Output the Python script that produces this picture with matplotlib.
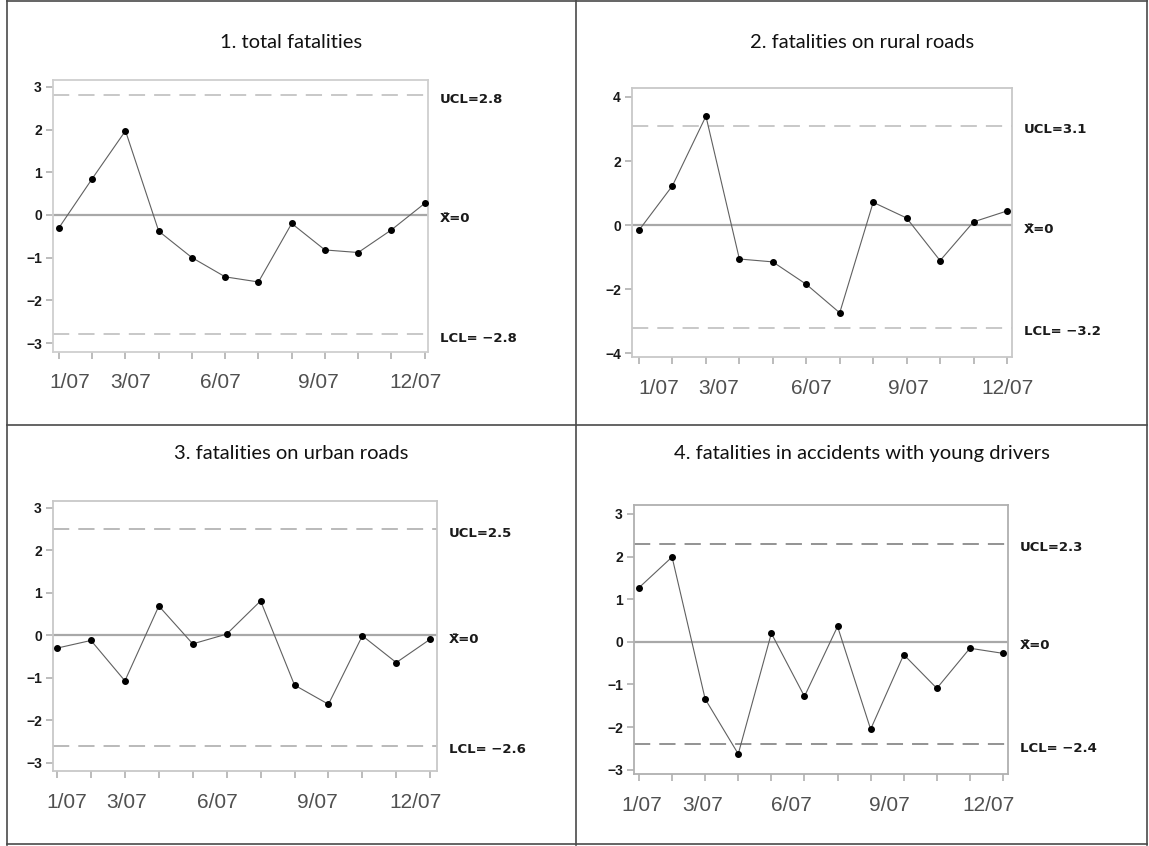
import numpy as np
import matplotlib.pyplot as plt
from matplotlib.lines import Line2D

# ----------------------------
# Data (standardised monthly values, 2007)
# ----------------------------
months = np.arange(1, 13)

total = [-0.30, 0.85, 1.97, -0.38, -1.00, -1.45, -1.57, -0.20, -0.82, -0.88, -0.35, 0.27]
rural = [-0.16, 1.23, 3.40, -1.06, -1.15, -1.85, -2.74, 0.71, 0.22, -1.11, 0.10, 0.44]
urban = [-0.30, -0.12, -1.07, 0.69, -0.20, 0.03, 0.81, -1.17, -1.62, -0.01, -0.64, -0.09]
young = [1.27, 1.99, -1.34, -2.63, 0.20, -1.28, 0.36, -2.05, -0.30, -1.09, -0.15, -0.27]

titles = [
    "1. total fatalities",
    "2. fatalities on rural roads",
    "3. fatalities on urban roads",
    "4. fatalities in accidents with young drivers",
]
ucl = [2.8, 3.1, 2.5, 2.3]
lcl = [-2.8, -3.2, -2.6, -2.4]
ucl_text = ["2.8", "3.1", "2.5", "2.3"]
lcl_text = ["\u22122.8", "\u22123.2", "\u22122.6", "\u22122.4"]

label_months = [1, 3, 6, 9, 12]
label_text = ["1/07", "3/07", "6/07", "9/07", "12/07"]

# ----------------------------
# Layout (pixels on a 1149 x 846 canvas)
# ----------------------------
W, H = 1149, 846
# left, right, top, bottom of each plot frame
frames = [(53, 428, 80, 352), (632, 1012, 88, 357),
          (53, 437, 501, 771), (634, 1008, 505, 774)]
ylims = [(-3.21, 3.16), (-4.12, 4.28), (-3.19, 3.16), (-3.10, 3.21)]
xlims = [(0.82, 12.1), (0.79, 12.15), (0.88, 12.2), (0.85, 12.15)]
yticks = [np.arange(-3, 4), np.arange(-4, 5, 2), np.arange(-3, 4), np.arange(-3, 4)]
label_shift = [[11, 5, -5, -7, -9], [20, 13, 5, 2, 1],
               [10, 2, -9, -11, -15], [3, -3, -13, -14, -15]]
dash_color = ["#c4c4c4", "#c4c4c4", "#b4b4b4", "#8a8a8a"]
spine_color = ["#cfcfcf", "#c8c8c8", "#c8c8c8", "#b0b0b0"]
title_pos = [(291, 42), (862, 42), (291, 453), (862, 453)]

series = [total, rural, urban, young]

fig = plt.figure(figsize=(W / 100, H / 100), dpi=100)

for i in range(4):
    l, r, t, b = frames[i]
    ax = fig.add_axes([l / W, 1 - b / H, (r - l) / W, (b - t) / H])

    ax.axhline(0, color="#a8a8a8", lw=1.6, zorder=1)
    ax.axhline(ucl[i], color=dash_color[i], lw=1.3, dashes=(9, 5), zorder=1)
    ax.axhline(lcl[i], color=dash_color[i], lw=1.3, dashes=(9, 5), zorder=1)

    ax.plot(months, series[i], color="#606060", lw=0.8, zorder=2)
    ax.plot(months, series[i], "o", color="black", ms=4, zorder=3)

    ax.set_xlim(*xlims[i])
    ax.set_ylim(*ylims[i])

    for s in ax.spines.values():
        s.set_color(spine_color[i])
        s.set_linewidth(1.3)

    ax.set_yticks(yticks[i])
    ax.set_yticklabels([str(v).replace("-", "\u2212") for v in yticks[i]],
                       fontsize=10, fontweight="bold", color="#1a1a1a",
                       family="Liberation Sans")
    ax.set_xticks(months)
    ax.set_xticklabels([])
    ax.tick_params(axis="both", color="#b0b0b0", length=5, width=1.2, pad=3)

    for m, txt, sh in zip(label_months, label_text, label_shift[i]):
        ax.annotate(txt, xy=(m, 0), xycoords=("data", "axes fraction"),
                    xytext=(sh, -31), textcoords="offset pixels",
                    ha="center", va="center", fontsize=15,
                    color="#505050", family="Liberation Sans")

    # control limit labels to the right of the frame
    right_labels = [(ucl[i], "UCL=" + ucl_text[i]), (0, "X\u0304=0"),
                    (lcl[i], "LCL= " + lcl_text[i])]
    for yv, txt in right_labels:
        ax.annotate(txt, xy=(1, yv), xycoords=("axes fraction", "data"),
                    xytext=(12, -4), textcoords="offset pixels",
                    ha="left", va="center", fontsize=9.5, fontweight="bold",
                    color="#1a1a1a", family="DejaVu Sans Condensed")

    x, y = title_pos[i]
    fig.text(x / W, 1 - y / H, titles[i], ha="center", va="center",
             fontsize=14.5, color="#111111", family="Lato")

# ----------------------------
# Table grid around the panels
# ----------------------------
grid = [((7, 7), (0, 845)), ((1147, 1147), (0, 845)),
        ((7, 1147), (1, 1)), ((7, 1147), (844, 844)),
        ((576, 576), (0, 845)), ((7, 1147), (425, 425))]
for xs, ys in grid:
    fig.add_artist(Line2D([v / W for v in xs], [1 - v / H for v in ys],
                          color="#4a4a4a", lw=1.2))

plt.savefig("out.png", dpi=100)
